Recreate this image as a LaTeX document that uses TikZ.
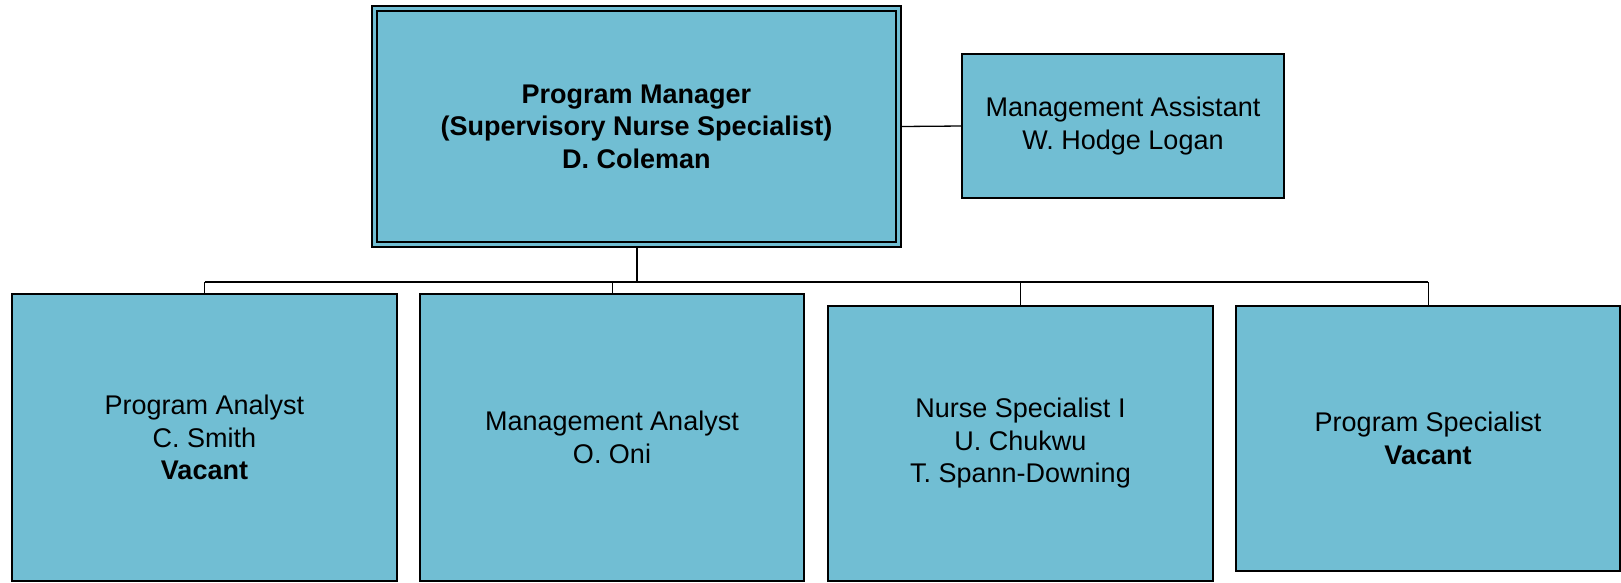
\documentclass[tikz,border=0pt]{standalone}
\usepackage{fontspec}
\setmainfont{Liberation Sans}
\definecolor{boxfill}{RGB}{113,190,211}
\begin{document}
\begin{tikzpicture}[x=1pt,y=-1pt,
  orgbox/.style={draw=black, line width=1.6pt, fill=boxfill, outer sep=0pt,
    inner sep=0pt, align=center, text=black,
    font=\fontsize{27}{32.5}\selectfont},
  conn/.style={draw=black, line width=1.3pt},
  tick/.style={draw=black, line width=1pt}]
\fill[white] (0,0) rectangle (1621,582);
\useasboundingbox (0,0) rectangle (1621,582);

\node[orgbox, minimum width=529pt, minimum height=241pt, font=\bfseries\fontsize{27}{32.5}\selectfont] (main) at (636.5,126.5)
  {Program Manager\\(Supervisory Nurse Specialist)\\D. Coleman};
\draw[line width=1.5pt] ([shift={(5pt,-5pt)}]main.north west) rectangle ([shift={(-5pt,5pt)}]main.south east);

\node[orgbox, minimum width=322pt, minimum height=144pt] (asst) at (1123,126)
  {Management Assistant\\W. Hodge Logan};

\node[orgbox, minimum width=385pt, minimum height=287pt] (b1) at (204.5,437.5)
  {Program Analyst\\C. Smith\\\textbf{Vacant}};
\node[orgbox, minimum width=384pt, minimum height=287pt] (b2) at (612,437.5)
  {Management Analyst\\O. Oni};
\node[orgbox, minimum width=385pt, minimum height=275pt] (b3) at (1020.5,443.5)
  {Nurse Specialist I\\U. Chukwu\\T. Spann-Downing};
\node[orgbox, minimum width=384pt, minimum height=265pt] (b4) at (1428,438.5)
  {Program Specialist\\\textbf{Vacant}};

\coordinate (busL) at (204.5,282);
\coordinate (busR) at (1428,282);

\draw[conn] (main.east) -- (asst.west);
\draw[line width=2pt] (main.south) -- (main.south |- busL);
\draw[conn] (busL) -- (busR);
\draw[tick] (b1.north) -- (b1.north |- busL);
\draw[tick] (b2.north) -- (b2.north |- busL);
\draw[tick] (b3.north) -- (b3.north |- busL);
\draw[tick] (b4.north) -- (b4.north |- busL);
\end{tikzpicture}
\end{document}
